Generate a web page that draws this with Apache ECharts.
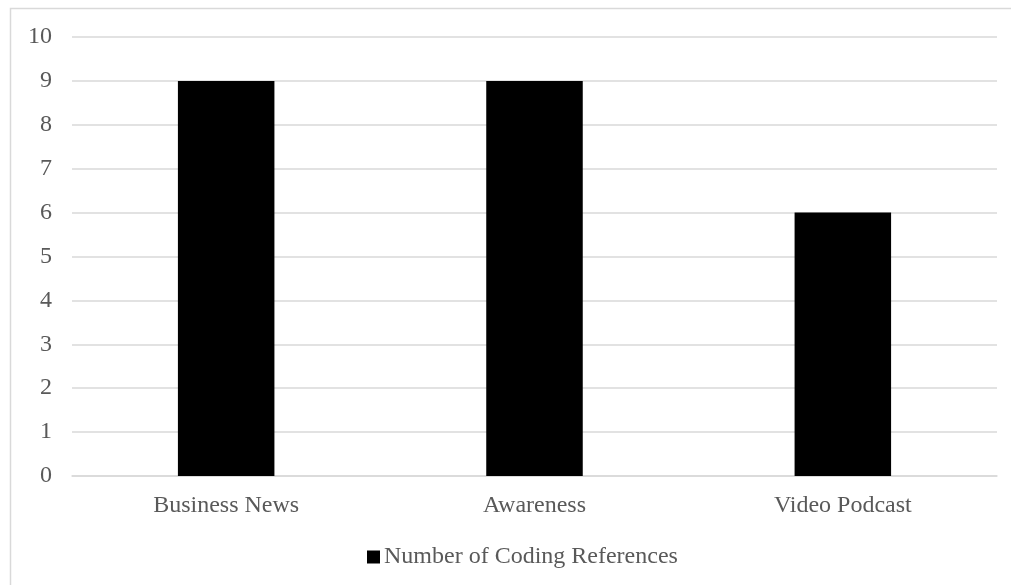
<!DOCTYPE html>
<html>
<head>
<meta charset="utf-8">
<script src="https://cdn.jsdelivr.net/npm/echarts@6/dist/echarts.min.js"></script>
<style>
  html, body { margin: 0; padding: 0; background: #ffffff; }
  #chart { width: 1011px; height: 585px; }
</style>
</head>
<body>
<div id="chart"></div>
<script>
// Coding reference counts per category
const categories = ['Business News', 'Awareness', 'Video Podcast'];
const codingReferences = [9, 9, 6];
const seriesName = 'Number of Coding References';

const FONT = '"Liberation Serif", "Times New Roman", serif';
const TEXT = '#595959';
const GRID = '#d9d9d9';

const chart = echarts.init(document.getElementById('chart'));
chart.setOption({
  animation: false,
  backgroundColor: '#ffffff',
  textStyle: { fontFamily: FONT },
  graphic: [{
    type: 'rect',
    silent: true,
    shape: { x: 10.5, y: 8.5, width: 1100, height: 700 },
    style: { fill: 'none', stroke: GRID, lineWidth: 1.5 }
  }],
  grid: { left: 72, right: 14, top: 37, bottom: 109, containLabel: false },
  legend: {
    data: [seriesName],
    top: 540,
    left: 362,
    icon: 'rect',
    itemWidth: 13,
    itemHeight: 13,
    itemGap: 4,
    textStyle: { fontFamily: FONT, fontSize: 24, color: TEXT, padding: [0, 0, 0, -1] }
  },
  xAxis: {
    type: 'category',
    data: categories,
    axisLine: { show: true, lineStyle: { color: GRID, width: 1.5 } },
    axisTick: { show: false },
    axisLabel: { fontFamily: FONT, fontSize: 24, color: TEXT, margin: 18 }
  },
  yAxis: {
    type: 'value',
    min: 0,
    max: 10,
    interval: 1,
    axisLine: { show: false },
    axisTick: { show: false },
    splitLine: { lineStyle: { color: GRID, width: 1.5 } },
    axisLabel: { fontFamily: FONT, fontSize: 24, color: TEXT, margin: 20 }
  },
  series: [{
    name: seriesName,
    type: 'bar',
    data: codingReferences,
    barWidth: '31.3%',
    itemStyle: { color: '#000000' }
  }]
});
</script>
</body>
</html>
